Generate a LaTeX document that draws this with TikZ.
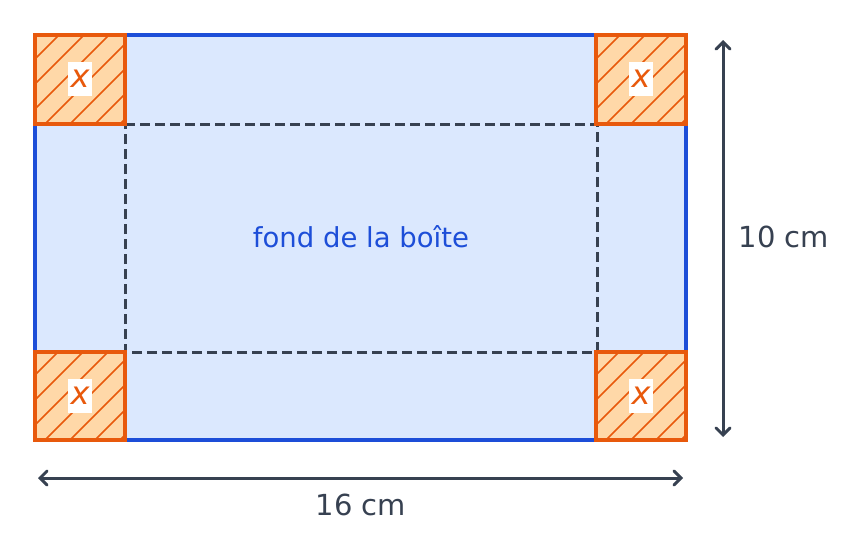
\documentclass[tikz,border=0pt]{standalone}
\usepackage{fontspec}
\setmainfont{DejaVu Sans}
\usetikzlibrary{arrows.meta}
\definecolor{bblue}{HTML}{1D4ED8}
\definecolor{bfill}{HTML}{DBE8FE}
\definecolor{oline}{HTML}{E8590C}
\definecolor{ofill}{HTML}{FFD8A8}
\definecolor{dark}{HTML}{374151}
\tikzset{
  corner/.style={draw=oline, line width=3.6pt},
  hatch/.style={draw=oline, line width=1.7pt},
  xlabel/.style={fill=white, text=oline, inner sep=0pt, minimum width=24pt, minimum height=34pt, font=\fontsize{32}{36}\selectfont\itshape},
  dim/.style={draw=dark, line width=3pt, {Straight Barb[length=7pt,width=14pt,line cap=round]}-{Straight Barb[length=7pt,width=14pt,line cap=round]}},
  dimlabel/.style={text=dark, font=\fontsize{29}{33}\selectfont},
  fold/.style={draw=dark, line width=3pt, dash pattern=on 10pt off 5pt}
}
\begin{document}
\begin{tikzpicture}[x=1pt,y=-1pt]
\useasboundingbox (0,0) rectangle (843,546);
% sheet
\fill[bfill] (35,35) rectangle (686,440);
\draw[bblue, line width=3.8pt] (35,35) rectangle (686,440);
% fold lines
\coordinate (ftl) at (125,124);
\coordinate (ftr) at (597,124);
\coordinate (fbl) at (125,352);
\coordinate (fbr) at (597,352);
\draw[fold] (ftl) -- (ftr) -- (fbr) -- (fbl) -- cycle;
% corners
\fill[ofill] (35,35) rectangle (125,124);
\fill[ofill] (596,35) rectangle (686,124);
\fill[ofill] (35,352) rectangle (125,440);
\fill[ofill] (596,352) rectangle (686,440);
\begin{scope}
 \clip (35,35) rectangle (125,124);
 \foreach \k in {-100,-75,...,125} \draw[hatch] (35+\k,124+10) -- ++(110,-110);
\end{scope}
\begin{scope}
 \clip (596,35) rectangle (686,124);
 \foreach \k in {-100,-75,...,125} \draw[hatch] (596+\k,124+10) -- ++(110,-110);
\end{scope}
\begin{scope}
 \clip (35,352) rectangle (125,440);
 \foreach \k in {-100,-75,...,125} \draw[hatch] (35+\k,440+10) -- ++(110,-110);
\end{scope}
\begin{scope}
 \clip (596,352) rectangle (686,440);
 \foreach \k in {-100,-75,...,125} \draw[hatch] (596+\k,440+10) -- ++(110,-110);
\end{scope}
\draw[corner] (35,35) rectangle (125,124);
\draw[corner] (596,35) rectangle (686,124);
\draw[corner] (35,352) rectangle (125,440);
\draw[corner] (596,352) rectangle (686,440);
\node[xlabel] (x1) at (80,79) {x};
\node[xlabel] (x2) at (641,79) {x};
\node[xlabel] (x3) at (80,396) {x};
\node[xlabel] (x4) at (641,396) {x};
% label
\node[text=bblue, font=\fontsize{27.5}{32}\selectfont] (fond) at (361,237) {fond de la boîte};
% dimensions
\coordinate (h1) at (38,478);
\coordinate (h2) at (683,478);
\draw[dim] (h1) -- (h2);
\node[dimlabel] (w) at (361,505) {16 cm};
\coordinate (v1) at (723,40);
\coordinate (v2) at (723,437);
\draw[dim] (v1) -- (v2);
\node[dimlabel] (hgt) at (784,237) {10 cm};
\end{tikzpicture}
\end{document}
